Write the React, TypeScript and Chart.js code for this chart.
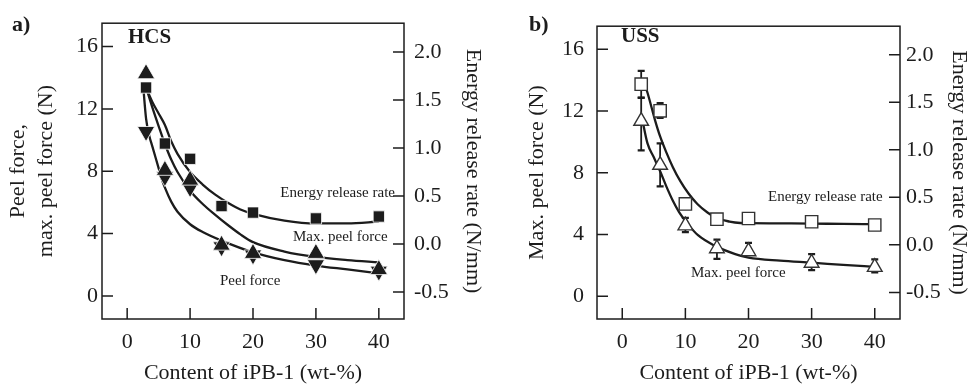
import React, { useEffect, useRef } from "react";
import { Chart, registerables } from "chart.js";

Chart.register(...registerables);

const SERIF = "'Liberation Serif', 'Times New Roman', Times, serif";
const INK = "#1c1c1c";

// ---- axes ----
const xTickValues = [0, 10, 20, 30, 40];
const forceTickValues = [0, 4, 8, 12, 16];
const energyTickValues = [-0.5, 0, 0.5, 1, 1.5, 2];

// ---- categories (iPB-1 content, wt-%) ----
const contents = [3, 6, 10, 15, 20, 30, 40];

// ---- a) HCS measured ----
const hcsEnergyRate = [1.63, 1.047, 0.888, 0.396, 0.328, 0.267, 0.287];
const hcsMaxPeelForce = [14.26, 8.06, 7.43, 3.26, 2.73, 2.73, 1.69];
const hcsPeelForce = [10.55, 7.66, 6.95, 3.15, 2.63, 2.0, 1.59];

// ---- a) HCS fitted curves ----
const hcsEnergyFitX = [3, 4, 5, 6, 7, 8, 10, 12, 14, 16, 18, 20, 25, 30, 35, 40];
const hcsEnergyFitY = [1.63, 1.48, 1.36, 1.24, 1.07, 0.94, 0.75, 0.62, 0.515, 0.43, 0.36, 0.315, 0.245, 0.215, 0.215, 0.235];
const hcsMaxPeelFitX = [3, 4, 5, 6, 7, 8, 10, 12, 14, 16, 18, 20, 25, 30, 35, 40];
const hcsMaxPeelFitY = [13.4, 12.1, 10.9, 9.75, 8.75, 7.95, 6.75, 5.9, 5.2, 4.55, 3.95, 3.45, 2.85, 2.5, 2.3, 2.15];
const hcsPeelFitX = [2.6, 3, 3.5, 4, 4.5, 5, 5.5, 6, 7, 8, 10, 12, 15, 20, 25, 30, 35, 40];
const hcsPeelFitY = [13.2, 11.4, 10.3, 9.6, 8.9, 8.2, 7.5, 6.95, 6.05, 5.4, 4.6, 4.1, 3.55, 2.8, 2.3, 1.95, 1.7, 1.45];

// ---- b) USS measured ----
const ussEnergyRate = [1.69, 1.41, 0.43, 0.27, 0.277, 0.243, 0.209];
const ussEnergyLow = [1.55, 1.335, 0.4, 0.27, 0.277, 0.243, 0.209];
const ussEnergyHigh = [1.83, 1.49, 0.46, 0.27, 0.277, 0.243, 0.209];
const ussMaxPeelForce = [11.35, 8.5, 4.57, 3.09, 2.9, 2.15, 1.88];
const ussMaxPeelLow = [9.45, 7.12, 4.15, 2.42, 2.7, 1.69, 1.54];
const ussMaxPeelHigh = [12.85, 9.9, 5.07, 3.67, 3.46, 2.73, 2.38];

// ---- b) USS fitted curves ----
const ussEnergyFitX = [3.65, 4, 5.2, 6, 7, 8, 9.2, 10.5, 11.9, 13.5, 15, 17, 18.7, 20, 25, 30, 35, 40];
const ussEnergyFitY = [1.67, 1.6, 1.31, 1.14, 0.97, 0.82, 0.67, 0.54, 0.43, 0.34, 0.28, 0.245, 0.23, 0.228, 0.226, 0.224, 0.22, 0.218];
const ussMaxPeelFitX = [3.1, 4, 5, 6, 7, 8, 9, 10.3, 12, 14.7, 17.9, 20, 25, 30, 35, 40];
const ussMaxPeelFitY = [11.6, 9.9, 9.0, 8.1, 7.1, 6.2, 5.45, 4.72, 3.95, 3.26, 2.73, 2.5, 2.3, 2.17, 2.03, 1.9];

type Txt = { text: string; x: number; y: number; size: number; bold?: boolean; align?: CanvasTextAlign };

const pts = (xs: number[], ys: number[]) => xs.map((x, i) => ({ x, y: ys[i] }));

function markerSet(xs: number[], ys: number[], axis: string, style: string, radius: number, filled: boolean, rotation = 0) {
  return {
    data: pts(xs, ys),
    yAxisID: axis,
    showLine: false,
    pointStyle: style,
    pointRotation: rotation,
    pointRadius: radius,
    pointHoverRadius: radius,
    pointBackgroundColor: filled ? INK : "#ffffff",
    pointBorderColor: filled ? "#ffffff" : "#333333",
    pointBorderWidth: filled ? 0.8 : 1.4,
    order: 0,
  };
}

function curveSet(xs: number[], ys: number[], axis: string) {
  return {
    data: pts(xs, ys),
    yAxisID: axis,
    showLine: true,
    pointRadius: 0,
    pointHoverRadius: 0,
    borderColor: INK,
    borderWidth: 2.3,
    cubicInterpolationMode: "monotone",
    fill: false,
    order: 1,
  };
}

type Err = { axis: string; xs: number[]; low: number[]; high: number[] };

type PanelSpec = {
  datasets: any[];
  errors: Err[];
  texts: Txt[];
  leftTitle: string | string[];
  leftTitlePad: number;
  leftTitleLH: number;
  leftWidth: number;
  rightWidth: number;
  leftPad: number;
  rightPad: number;
};

const panelA: PanelSpec = {
  datasets: [
    markerSet(contents, hcsEnergyRate, "yE", "rect", 8, true),
    markerSet(contents, hcsMaxPeelForce, "yF", "triangle", 10, true),
    markerSet(contents, hcsPeelForce, "yF", "triangle", 10, true, 180),
    curveSet(hcsEnergyFitX, hcsEnergyFitY, "yE"),
    curveSet(hcsMaxPeelFitX, hcsMaxPeelFitY, "yF"),
    curveSet(hcsPeelFitX, hcsPeelFitY, "yF"),
  ],
  errors: [],
  texts: [
    { text: "a)", x: 12, y: 31, size: 22, bold: true },
    { text: "HCS", x: 128, y: 43, size: 21, bold: true },
    { text: "Energy release rate", x: 395, y: 196.5, size: 15, align: "right" },
    { text: "Max. peel force", x: 293, y: 240.5, size: 15 },
    { text: "Peel force", x: 220, y: 284.5, size: 15 },
  ],
  leftTitle: ["Peel force,", "max. peel force (N)"],
  leftTitlePad: 4,
  leftTitleLH: 1.27,
  leftWidth: 102,
  rightWidth: 82,
  leftPad: 4,
  rightPad: 10,
};

const panelB: PanelSpec = {
  datasets: [
    markerSet(contents, ussEnergyRate, "yE", "rect", 8.7, false),
    markerSet(contents, ussMaxPeelForce, "yF", "triangle", 8.5, false),
    curveSet(ussEnergyFitX, ussEnergyFitY, "yE"),
    curveSet(ussMaxPeelFitX, ussMaxPeelFitY, "yF"),
  ],
  errors: [
    { axis: "yF", xs: contents, low: ussMaxPeelLow, high: ussMaxPeelHigh },
    { axis: "yE", xs: contents, low: ussEnergyLow, high: ussEnergyHigh },
  ],
  texts: [
    { text: "b)", x: 43, y: 31, size: 22, bold: true },
    { text: "USS", x: 135, y: 42, size: 21, bold: true },
    { text: "Energy release rate", x: 282, y: 200.5, size: 15 },
    { text: "Max. peel force", x: 205, y: 276.5, size: 15 },
  ],
  leftTitle: "Max. peel force (N)",
  leftTitlePad: 38,
  leftTitleLH: 1.2,
  leftWidth: 111,
  rightWidth: 72,
  leftPad: 13,
  rightPad: 6,
};

function buildConfig(spec: PanelSpec): any {
  const font = { family: SERIF, size: 22 };
  const decor = {
    id: "decor",
    beforeDatasetsDraw(chart: any) {
      const { ctx, scales } = chart;
      ctx.save();
      ctx.strokeStyle = INK;
      spec.errors.forEach((e) => {
        const ys = scales[e.axis];
        e.xs.forEach((xv, i) => {
          if (e.high[i] === e.low[i]) return;
          const x = scales.x.getPixelForValue(xv);
          const y1 = ys.getPixelForValue(e.low[i]);
          const y2 = ys.getPixelForValue(e.high[i]);
          ctx.lineWidth = 1.8;
          ctx.beginPath();
          ctx.moveTo(x, y1);
          ctx.lineTo(x, y2);
          ctx.stroke();
          ctx.lineWidth = 2.2;
          ctx.beginPath();
          ctx.moveTo(x - 3.5, y1);
          ctx.lineTo(x + 3.5, y1);
          ctx.moveTo(x - 3.5, y2);
          ctx.lineTo(x + 3.5, y2);
          ctx.stroke();
        });
      });
      ctx.restore();
    },
    afterDraw(chart: any) {
      const { ctx, chartArea: a, scales } = chart;
      ctx.save();
      ctx.strokeStyle = INK;
      ctx.lineWidth = 1.5;
      ctx.strokeRect(a.left, a.top, a.right - a.left, a.bottom - a.top);
      ctx.beginPath();
      forceTickValues.forEach((v) => {
        const y = scales.yF.getPixelForValue(v);
        ctx.moveTo(a.left, y);
        ctx.lineTo(a.left + 11, y);
      });
      energyTickValues.forEach((v) => {
        const y = scales.yE.getPixelForValue(v);
        ctx.moveTo(a.right - 11, y);
        ctx.lineTo(a.right, y);
      });
      xTickValues.forEach((v) => {
        const x = scales.x.getPixelForValue(v);
        ctx.moveTo(x, a.bottom);
        ctx.lineTo(x, a.bottom - 11);
      });
      ctx.stroke();
      ctx.fillStyle = INK;
      ctx.textBaseline = "alphabetic";
      spec.texts.forEach((t) => {
        ctx.font = `${t.bold ? "bold " : ""}${t.size}px ${SERIF}`;
        ctx.textAlign = t.align || "left";
        ctx.fillText(t.text, t.x, t.y);
      });
      ctx.restore();
    },
  };

  return {
    type: "scatter",
    data: { datasets: spec.datasets },
    options: {
      animation: false,
      responsive: false,
      devicePixelRatio: 1,
      layout: { padding: { top: 16, left: 0, right: 0, bottom: 0 } },
      plugins: { legend: { display: false }, tooltip: { enabled: false } },
      events: [],
      scales: {
        x: {
          type: "linear",
          position: "bottom",
          min: -4,
          max: 44,
          grid: { display: false, drawTicks: false },
          border: { display: false },
          afterBuildTicks: (s: any) => {
            s.ticks = xTickValues.map((value) => ({ value }));
          },
          afterFit: (s: any) => {
            s.height = 67;
          },
          ticks: { font, color: INK, padding: 10, autoSkip: false, maxRotation: 0 },
          title: {
            display: true,
            text: "Content of iPB-1 (wt-%)",
            font: { ...font, lineHeight: 1.2 },
            color: INK,
            padding: { top: 0, bottom: 0 },
          },
        },
        yF: {
          type: "linear",
          position: "left",
          min: -1.48,
          max: 17.5,
          grid: { display: false, drawTicks: false },
          border: { display: false },
          afterBuildTicks: (s: any) => {
            s.ticks = forceTickValues.map((value) => ({ value }));
          },
          afterFit: (s: any) => {
            s.width = spec.leftWidth;
          },
          ticks: { font, color: INK, padding: spec.leftPad },
          title: {
            display: true,
            text: spec.leftTitle,
            font: { ...font, lineHeight: spec.leftTitleLH },
            color: INK,
            padding: { top: spec.leftTitlePad, bottom: 0 },
          },
        },
        yE: {
          type: "linear",
          position: "right",
          min: -0.78,
          max: 2.3,
          grid: { display: false, drawTicks: false },
          border: { display: false },
          afterBuildTicks: (s: any) => {
            s.ticks = energyTickValues.map((value) => ({ value }));
          },
          afterFit: (s: any) => {
            s.width = spec.rightWidth;
          },
          ticks: {
            font,
            color: INK,
            padding: spec.rightPad,
            callback: (v: any) => Number(v).toFixed(1),
          },
          title: {
            display: true,
            text: "Energy release rate (N/mm)",
            font: { ...font, lineHeight: 1.2 },
            color: INK,
            padding: { top: 0, bottom: 0 },
          },
        },
      },
    },
    plugins: [decor],
  };
}

function Panel({ spec }: { spec: PanelSpec }) {
  const ref = useRef<HTMLCanvasElement>(null);
  useEffect(() => {
    const chart = new Chart(ref.current as HTMLCanvasElement, buildConfig(spec));
    return () => chart.destroy();
  }, [spec]);
  return (
    <canvas
      ref={ref}
      width={486}
      height={386}
      style={{ display: "block", width: 486, height: 386 }}
    />
  );
}

export default function App() {
  return (
    <div
      style={{
        position: "absolute",
        left: 0,
        top: 0,
        width: 972,
        height: 386,
        display: "flex",
        background: "#ffffff",
      }}
    >
      <Panel spec={panelA} />
      <Panel spec={panelB} />
    </div>
  );
}
